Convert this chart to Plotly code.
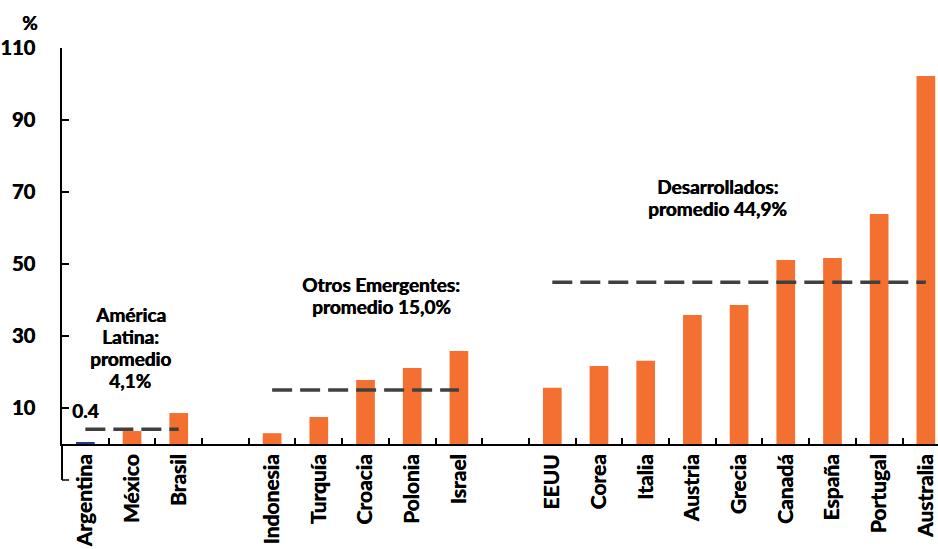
import plotly.graph_objects as go

# Country groups (blank entries leave a gap slot between groups)
latam = ["Argentina", "México", "Brasil"]
emergentes = ["Indonesia", "Turquía", "Croacia", "Polonia", "Israel"]
desarrollados = ["EEUU", "Corea", "Italia", "Austria", "Grecia", "Canadá",
                 "España", "Portugal", "Australia"]

latam_vals = [0.4, 3.6, 8.6]
emergentes_vals = [3.0, 7.5, 17.8, 21.1, 25.8]
desarrollados_vals = [15.6, 21.7, 23.1, 35.8, 38.6, 51.1, 51.7, 63.9, 102.2]

# Group averages (%)
prom_latam = 4.1
prom_emergentes = 15.0
prom_desarrollados = 44.9

y_ticks = [10, 30, 50, 70, 90, 110]

gap1, gap2 = " ", "  "
categories = latam + [gap1] + emergentes + [gap2] + desarrollados
values = latam_vals + [None] + emergentes_vals + [None] + desarrollados_vals

ORANGE = "#F37030"
BLUE = "#1F3A93"
DASH = "#404040"
FONT = "Lato"
W = "bold"
HEAVY = "0.6px 0 0 #000"  # thickens the bold face a little


def font(size):
    return dict(family=FONT, size=size, color="black", weight=W, shadow=HEAVY)


colors = [BLUE if c == "Argentina" else ORANGE for c in categories]

fig = go.Figure()
fig.add_trace(go.Bar(
    x=categories, y=values, marker=dict(color=colors, line=dict(width=0)),
    width=0.4, showlegend=False, hoverinfo="x+y",
))

# Dashed average lines spanning each group
for grp, avg in [(latam, prom_latam), (emergentes, prom_emergentes),
                 (desarrollados, prom_desarrollados)]:
    fig.add_trace(go.Scatter(
        x=[grp[0], grp[-1]], y=[avg, avg], mode="lines",
        line=dict(color=DASH, width=3.5, dash="20px,8px"),
        showlegend=False, hoverinfo="skip",
    ))

ymin, ymax = 0, 110
n = len(categories)
x_end = n - 0.5 - 0.24

fig.update_layout(
    width=938, height=549,
    margin=dict(l=62, r=0, t=48, b=105),
    paper_bgcolor="white", plot_bgcolor="white",
    font=dict(family=FONT, color="black", size=19, weight=W),
    bargap=0.6,
    xaxis=dict(
        type="category", categoryorder="array", categoryarray=categories,
        range=[-0.5, x_end],
        showline=True, linecolor="black", linewidth=2,
        ticks="inside", tickson="boundaries", ticklen=6, tickwidth=1.5,
        tickcolor="black",
        tickangle=-90,
        tickfont=font(21),
        showgrid=False, zeroline=False, fixedrange=True,
    ),
    yaxis=dict(
        range=[ymin, ymax],
        tickvals=y_ticks,
        showline=True, linecolor="black", linewidth=2,
        ticks="inside", ticklen=7, tickwidth=1.5, tickcolor="black",
        tickfont=font(20),
        ticklabelstandoff=21,
        showgrid=False, zeroline=False, fixedrange=True,
    ),
)

# Extend the value axis below zero with a closing tick
below = -10 / (ymax - ymin)
fig.add_shape(type="line", xref="paper", yref="paper", x0=0, x1=0, y0=0, y1=below,
              line=dict(color="black", width=2))
fig.add_shape(type="line", xref="paper", yref="paper", x0=0, x1=7 / 876, y0=below, y1=below,
              line=dict(color="black", width=1.5))

ann_font = font(19)


def label_block(lines, x, y, spacing=21.7):
    """Centred multi-line label with tight line spacing (pixels)."""
    mid = (len(lines) - 1) / 2
    for i, line in enumerate(lines):
        fig.add_annotation(text=line, x=x, y=y, yshift=(mid - i) * spacing,
                           showarrow=False, font=ann_font, align="center")


fig.add_annotation(text="%", xref="paper", yref="paper", x=-0.037, y=1.0,
                   xanchor="center", yanchor="middle", yshift=26, showarrow=False,
                   font=font(19))
label_block(["América", "Latina:", "promedio", "4,1%"], x=0.96, y=26.8)
fig.add_annotation(text="0.4", x=0, y=9.2, showarrow=False, font=ann_font)
label_block(["Otros Emergentes:", "promedio 15,0%"], x=6.34, y=41.2)
label_block(["Desarrollados:", "promedio 44,9%"], x=13.53, y=68.5)

fig.write_html("out.html")
